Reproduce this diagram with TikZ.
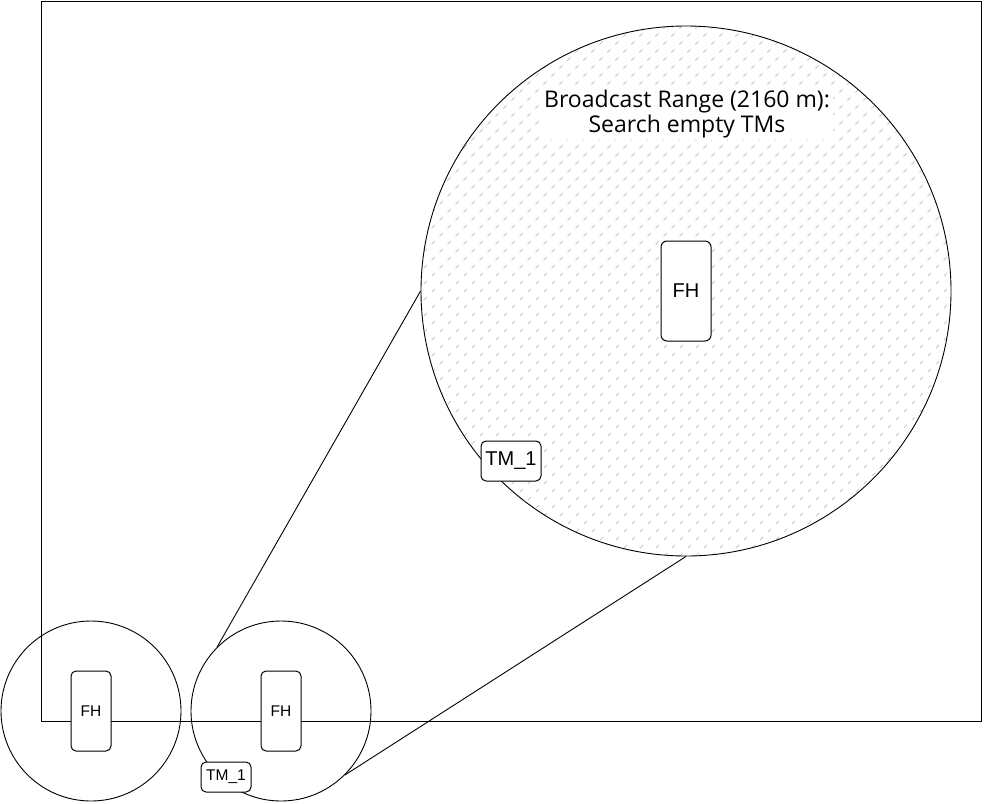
\documentclass[tikz,border=0pt]{standalone}
\usepackage{fontspec}
\setmainfont{Liberation Sans}
\newfontfamily\titlefont{Open Sans}
\begin{document}
\begin{tikzpicture}[x=1pt,y=-1pt,line width=1pt,
  frame/.style={draw,line width=1pt},
  zone/.style={circle,draw,inner sep=0pt,line width=0.9pt},
  bigbox/.style={draw,fill=white,rounded corners=6pt,inner sep=0pt,font=\fontsize{20}{24}\selectfont},
  smallbox/.style={draw,fill=white,rounded corners=5pt,inner sep=0pt,font=\fontsize{15.5}{18}\selectfont},
  hatch/.style={draw=black!22,line width=0.8pt,dash pattern=on 4.5pt off 6.8pt},
  link/.style={draw,line width=0.9pt}]
\useasboundingbox (0,0) rectangle (984,803);
% outer frame
\draw[frame] (41,1) rectangle (981,721);
% small circles
\node[zone,minimum size=180pt] (c1) at (91,711) {};
\node[zone,minimum size=180pt] (c2) at (281,711) {};
% hatch inside big circle
\begin{scope}
  \clip (686,291) circle [radius=265pt];
  \foreach \k in {-36,...,36}
    \draw[hatch] (400+16*\k,580) -- ++(620,-620);
\end{scope}
\node[zone,minimum size=530pt] (big) at (686,291) {};
% label
\node[fill=white,inner xsep=3pt,inner ysep=2pt,align=center,font=\titlefont\fontsize{23}{25.5}\selectfont] (lbl) at (687,114) {Broadcast Range (2160 m):\\Search empty TMs};
% connectors
\draw[link] (c2.135) -- (big.west);
\draw[link] (c2.-45) -- (big.south);
% boxes
\node[bigbox,minimum width=50pt,minimum height=100pt] (fhbig) at (686,291) {FH};
\node[bigbox,rounded corners=5pt,minimum width=60pt,minimum height=40pt] (tmbig) at (511,461) {TM\_1};
\node[smallbox,minimum width=40pt,minimum height=80pt] (fh1) at (91,711) {FH};
\node[smallbox,minimum width=40pt,minimum height=80pt] (fh2) at (281,711) {FH};
\node[smallbox,minimum width=50pt,minimum height=30pt] (tm2) at (226,777) {TM\_1};
\end{tikzpicture}
\end{document}
